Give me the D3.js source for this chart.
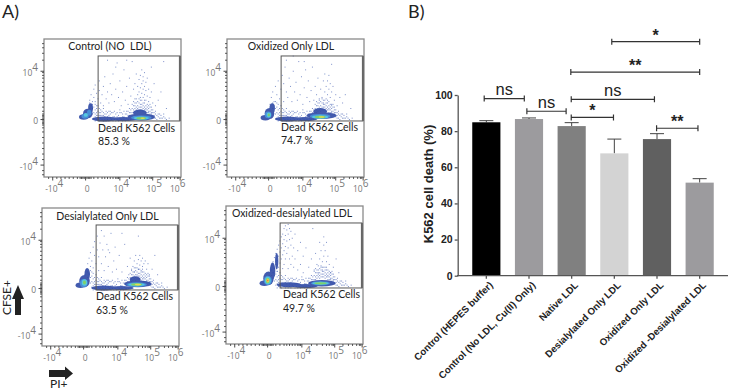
<!DOCTYPE html>
<meta charset="utf-8">
<style>
body { margin: 0; background: #fff; }
svg { display: block; }
text { font-family: Lato, "Open Sans", sans-serif; fill: #222; }
.flow-tick text { fill: #777; font-size: 8.5px; font-family: "Open Sans", sans-serif; }
.bars text { font-family: "Liberation Sans", Arial, sans-serif; font-weight: bold; fill: #222; }
.axis path, .axis line { stroke: #555; stroke-width: 1.3; }
</style>
<svg width="729" height="391"></svg>
<script src="https://d3js.org/d3.v7.min.js"></script>
<script>

// ---- panel B values
var groups = ["Control (HEPES buffer)", "Control (No LDL, Cu(II) Only)", "Native LDL",
  "Desialylated Only LDL", "Oxidized Only LDL", "Oxidized -Desialylated LDL"];
var deathPct = [84.9, 86.7, 82.8, 67.7, 75.6, 51.5];
var errorTop = [85.8, 87.3, 84.7, 75.6, 78.6, 53.7];
var barColors = ["#000000", "#9c9b9e", "#808080", "#d3d3d3", "#606060", "#9c9b9e"];
var pctTicks = [0, 20, 40, 60, 80, 100];

// brackets: from / to in bar index units, height in % units
var bracketFrom = [2.94, 1.98, -0.05, 0.95, 1.99, 1.99, 3.99];
var bracketTo = [5.0, 5.0, 0.89, 1.87, 3.94, 2.98, 4.96];
var bracketAt = [129.5, 112.7, 98, 91, 97.6, 87.6, 81.6];
var bracketText = ["*", "**", "ns", "ns", "ns", "*", "**"];

// ---- panel A values, in display channel units (0-100 across each plot)
var panelTitles = ["Control (NO  LDL)", "Oxidized Only LDL", "Desialylated Only LDL", "Oxidized-desialylated LDL"];
var panelPct = ["85.3 %", "74.7 %", "63.5 %", "49.7 %"];
var gateLabel = "Dead K562 Cells";
var gate = [39.5, 99.2, 40.6, 87.7];
var xMajor = [6, 30, 55, 79, 99];
var yMajor = [9, 42, 77];
var xMinor = [3, 9, 12, 15, 18, 21, 24, 26, 27, 28, 29, 31, 32, 33, 34, 36, 39, 42, 44, 46, 48, 50, 52, 53, 54, 62, 66, 70, 73, 75, 77, 78, 85, 89, 92, 95, 97, 98];
var yMinor = [2, 5, 13, 17, 21, 25, 29, 33, 36, 38, 39, 40, 41, 43, 44, 45, 46, 48, 51, 55, 59, 63, 66, 69, 72, 74, 76, 85, 90, 94, 97];
var xTickLabels = [["-10", "4"], ["0", ""], ["10", "4"], ["10", "5"], ["10", "6"]];
var yTickLabels = [["-10", "4"], ["0", ""], ["10", "4"]];

// dots common to all four plots: the low band and the foot of the right plume
var bandDots = [[36,43],[37,44],[37,41],[38,47],[38,42],[39,42],[39,45],[40,45],[40,41],[41,43],[41,47],[42,48],[42,42],[43,41],[43,45],
  [44,44],[44,42],[45,46],[45,41],[46,42],[46,44],[47,45],[47,41],[48,43],[48,46],[49,47],[49,42],[50,41],[50,44],[51,44],[51,42],[52,46],[52,41],
  [53,42],[53,44],[54,45],[54,41],[55,43],[55,47],[56,47],[56,42],[57,41],[57,44],[58,44],[58,42],[59,46],[59,41],[60,43],[60,48],[61,48],[61,42],
  [62,45],[62,50],[63,42],[63,47],[64,50],[64,44],[65,47],[65,52],[66,52],[66,48],[67,49],[67,54],[68,55],[68,50],[69,51],[69,57],[70,53],[70,49],
  [71,56],[71,51],[72,50],[72,54],[73,54],[73,49],[74,52],[74,47],[75,49],[75,53],[76,47],[76,50],[77,51],[77,46],[78,46],[78,49],[79,44],[79,47],
  [80,47],[80,43],[81,43],[81,46],[82,45],[82,42],[83,44],[84,43],[85,45],[86,43],[87,44],[89,42],[91,43]];
var footDots = [[33,50],[33,54],[34,48],[34,52],[35,46],[35,50],[35,55],[36,47],[36,51],[37,46],[37,49],[37,53],[38,45],[38,50],[39,48],[39,52],[40,47],[40,50],[41,45],[41,49],
  [42,45],[43,47],[43,50],[44,46],[45,48],[46,47],[47,48],[48,48],[50,47],[51,48],[53,47],[55,49],[57,46],[58,48],[60,46],[61,45],[62,47],[63,49],[64,47],[64,53],
  [65,49],[65,55],[66,50],[66,54],[67,51],[67,57],[68,52],[68,48],[69,49],[69,54],[70,51],[70,56],[71,49],[71,53],[72,52],[72,48],[73,51],[73,56],[74,50],[74,49],
  [75,51],[75,47],[76,48],[76,52],[77,48],[77,53],[78,47],[78,51],[79,49],[80,45],[81,48],[83,46],[84,46],[85,43],[87,46],[88,43]];

// hand-read sparse dots, one list per plot
var plotDots = [
  [[33,56],[34,60],[35,53],[36,58],[36,64],[37,55],[37,67],[38,61],[38,52],[39,57],[40,63],[40,70],[41,54],[42,60],[43,66],[43,52],[44,73],[45,57],[46,62],[47,54],[48,68],[49,60],[50,75],[51,55],[52,64],[53,83],[54,58],[55,70],[56,52],[57,62],[58,78],[59,56],[60,66],[61,53],[62,72],[63,59],[64,84],[65,64],[66,57],[66,68],[67,75],[68,60],[68,66],[69,71],[69,62],[70,58],[70,65],[70,74],[71,61],[71,68],[71,78],[72,58],[72,64],[72,70],[72,73],[73,60],[73,66],[73,76],[74,56],[74,63],[74,69],[75,59],[75,72],[76,55],[76,64],[77,58],[78,62],[79,54],[80,68],[81,52],[83,56],[85,62],[87,84],[89,50],[46,85],[52,80],[60,85],[78,80]],
  [[31,53],[32,58],[33,62],[34,55],[35,66],[36,60],[36,54],[37,70],[38,57],[39,64],[40,74],[41,68],[41,55],[42,80],[43,62],[43,85],[44,58],[45,72],[46,66],[47,55],[48,77],[49,62],[50,69],[51,56],[52,84],[53,60],[54,73],[55,53],[56,65],[57,78],[58,58],[59,70],[60,55],[61,63],[62,80],[63,56],[64,66],[65,60],[66,72],[67,56],[68,64],[69,58],[70,70],[70,54],[71,62],[71,75],[72,57],[72,66],[73,60],[73,70],[74,55],[74,64],[74,74],[75,58],[75,68],[76,53],[76,62],[77,66],[78,56],[79,60],[80,52],[82,58],[84,54],[86,60],[90,50],[56,84],[76,82],[48,88]],
  [[31,52],[32,56],[33,60],[34,53],[34,64],[35,58],[35,68],[36,54],[36,62],[37,72],[37,57],[38,66],[38,76],[39,60],[40,70],[40,80],[41,55],[41,65],[42,75],[43,84],[43,60],[44,70],[45,80],[45,55],[46,65],[47,74],[48,58],[49,68],[50,82],[51,54],[52,62],[53,72],[54,56],[56,66],[58,54],[60,74],[62,58],[63,52],[64,64],[65,56],[66,58],[67,54],[67,62],[68,66],[68,57],[69,60],[69,52],[70,63],[70,56],[71,59],[71,66],[72,55],[72,62],[73,58],[73,64],[74,60],[74,54],[75,62],[76,56],[77,60],[78,52],[80,56],[82,66],[84,52],[58,82],[70,80],[48,70]],
  [[31,50],[32,54],[33,57],[34,60],[34,52],[35,63],[35,55],[36,66],[36,58],[37,69],[37,61],[37,53],[38,72],[38,64],[38,56],[39,75],[39,67],[39,59],[40,78],[40,70],[40,62],[41,80],[41,73],[41,65],[41,55],[42,84],[42,76],[42,68],[42,58],[43,86],[43,79],[43,71],[43,62],[44,83],[44,75],[44,66],[45,87],[45,80],[45,70],[45,55],[46,84],[46,76],[46,62],[47,82],[47,72],[47,58],[48,77],[48,64],[49,70],[49,56],[50,80],[50,62],[52,68],[52,54],[54,74],[54,58],[56,64],[56,52],[58,70],[60,56],[62,62],[63,84],[64,54],[65,66],[66,58],[67,52],[68,62],[68,74],[69,56],[69,68],[70,60],[70,54],[71,72],[71,64],[71,78],[72,56],[72,68],[73,60],[73,74],[74,54],[74,64],[75,58],[76,52],[78,56],[80,62],[82,52]]
];

// density core of each plot: x, y, rx, ry, level (low level first)
var plotCores = [
  [[29,43.5,3.5,2,0],[32,46,3.5,3.5,0],[34,50,1.8,3.5,0],[44,42,9,1.8,0],[58,42,10,1.5,0],[71,43.5,10,2.5,0],[70,46.5,5,2.5,0],[30,44,2.6,1.8,1],[33,46.5,1.6,2.2,1],[71,43,7.5,1.6,1],[30.5,45,1.5,1.4,2],[71,42.7,5.5,1.2,2],[71,42.6,3.6,.9,3],[72,42.6,1.6,.6,4]],
  [[28,43,3.5,2,0],[31,46,3.5,4,0],[33,50,2,3.5,0],[44,42,9,1.8,0],[57,42,9,1.5,0],[69,44.5,11,2.5,0],[68,47.5,5,2.5,0],[30,45,2.4,2.4,1],[68,44,7.5,1.7,1],[30.5,45,1.7,1.8,2],[68,43.5,6,1.2,2],[30.5,45,.8,1,3],[68,43.5,4,.9,3],[69,43.5,2.2,.6,4]],
  [[28,44,3.5,2,0],[31,47,3.8,4.5,0],[33,52,2,4.5,0],[45,42,9,1.8,0],[58,42,9,1.5,0],[70,45,10,2.5,0],[68,48,4,2.5,0],[30.5,45.5,2.8,3,1],[69,44.5,7.5,1.7,1],[31,46,2,2.3,2],[69,44.5,6,1.2,2],[31,46,1.1,1.5,3],[69,44.5,4,.9,3],[70,44.5,2.4,.6,4]],
  [[28,44,3.5,2,0],[31,47.5,3.8,5,0],[34,53,2,6,0],[37,60,1.2,6,0],[46,43,9,1.8,0],[58,42,9,1.5,0],[70,44,10,2.3,0],[30.5,46,3,3.4,1],[69,44,7,1.5,1],[30.5,46,2.1,2.7,2],[69,44,6,1.1,2],[30.5,46,1.4,2,3],[69,44,4.5,.8,3],[30.5,46,.9,1.4,4],[30.5,46,.5,.8,5]]
];
var levelColors = ["#2f4aa6", "#3583d3", "#44c2dc", "#72cc5c", "#e6d83e", "#e8602a"];

// placement of each plot on the page
var plotLeft = [44, 227, 42, 226];
var plotTop = [39, 39, 208, 206];
var titleMid = [110, 291, 107.5, 292];
var titleBase = [50, 50, 220, 217];
var noteLeft = [98, 281, 96, 283];
var noteBase = [131.7, 130.7, 300, 298];

var svg = d3.select("svg");
var defs = svg.append("defs");
defs.append("filter").attr("id", "soft").append("feGaussianBlur").attr("stdDeviation", 0.6);
defs.append("filter").attr("id", "softDots").append("feGaussianBlur").attr("stdDeviation", 0.3);

svg.append("text").attr("x", 2).attr("y", 18).attr("font-size", 18).text("A)");
svg.append("text").attr("x", 408).attr("y", 18).attr("font-size", 18).text("B)");

function tickLabel(sel, parts) {
  sel.append("tspan").text(parts[0]);
  if (parts[1]) sel.append("tspan").attr("dy", -5).attr("font-size", 10).text(parts[1]);
}

panelTitles.forEach(function(title, i) {
  var x = d3.scaleLinear().domain([0, 100]).range([plotLeft[i], plotLeft[i] + 137]);
  var y = d3.scaleLinear().domain([0, 100]).range([plotTop[i] + 138, plotTop[i]]);
  var g = svg.append("g").attr("class", "flow");

  g.append("rect")
      .attr("x", x(0)).attr("y", y(100))
      .attr("width", x(100) - x(0)).attr("height", y(0) - y(100))
      .attr("fill", "none").attr("stroke", "#8a8a8a").attr("stroke-width", 1.3);

  // ticks
  [[d3.axisBottom(x), "translate(0," + y(0) + ")", xMajor, xMinor],
   [d3.axisLeft(y), "translate(" + x(0) + ",0)", yMajor, yMinor]].forEach(function(a) {
    g.append("g").attr("transform", a[1])
        .call(a[0].tickValues(a[3]).tickSize(2).tickFormat(""))
        .call(function(s) { s.select(".domain").remove(); s.selectAll("line").attr("stroke", "#333").attr("stroke-width", 0.8); });
    g.append("g").attr("transform", a[1])
        .call(a[0].tickValues(a[2]).tickSize(3.5).tickFormat(""))
        .call(function(s) { s.select(".domain").remove(); s.selectAll("line").attr("stroke", "#333").attr("stroke-width", 0.9); });
  });

  var labels = g.append("g").attr("class", "flow-tick");
  labels.selectAll(".xl").data(xMajor).enter().append("text")
      .attr("x", function(d) { return x(d) + (d === 99 ? -2 : 2); })
      .attr("y", y(0) + 15)
      .attr("text-anchor", "middle")
      .each(function(d, j) { tickLabel(d3.select(this), xTickLabels[j]); });
  labels.selectAll(".yl").data(yMajor).enter().append("text")
      .attr("x", x(0) - 6)
      .attr("y", function(d) { return y(d) + 5; })
      .attr("text-anchor", "end")
      .each(function(d, j) { tickLabel(d3.select(this), yTickLabels[j]); });

  // density: loose dots first, the coloured core over them
  g.append("g").attr("filter", "url(#softDots)")
    .selectAll("rect")
    .data(bandDots.concat(footDots, plotDots[i]))
    .enter().append("rect")
      .attr("x", function(d) { return x(d[0]); })
      .attr("y", function(d) { return y(d[1]); })
      .attr("width", 1).attr("height", 1)
      .attr("fill", "#2b4aa8").attr("opacity", 0.6);

  g.append("g").attr("filter", "url(#soft)").attr("opacity", 0.9)
    .selectAll("ellipse")
    .data(plotCores[i])
    .enter().append("ellipse")
      .attr("cx", function(d) { return x(d[0]); })
      .attr("cy", function(d) { return y(d[1]); })
      .attr("rx", function(d) { return x(d[2]) - x(0); })
      .attr("ry", function(d) { return y(0) - y(d[3]); })
      .attr("fill", function(d) { return levelColors[d[4]]; });

  // gate
  g.append("rect")
      .attr("x", x(gate[0])).attr("y", y(gate[3]))
      .attr("width", x(gate[1]) - x(gate[0])).attr("height", y(gate[2]) - y(gate[3]))
      .attr("fill", "none").attr("stroke", "#555").attr("stroke-width", 1);
  g.append("line")
      .attr("x1", x(gate[1])).attr("x2", x(gate[1]))
      .attr("y1", y(gate[3])).attr("y2", y(gate[2]))
      .attr("stroke", "#666").attr("stroke-width", 2);

  g.append("text").attr("x", titleMid[i]).attr("y", titleBase[i])
      .attr("text-anchor", "middle").attr("font-size", 10.5)
      .style("white-space", "pre").text(title);
  g.append("text").attr("x", noteLeft[i]).attr("y", noteBase[i]).attr("font-size", 10.5).text(gateLabel);
  g.append("text").attr("x", noteLeft[i]).attr("y", noteBase[i] + 13.5).attr("font-size", 10.5).text(panelPct[i]);
});

// axis captions of panel A, with their arrows
svg.append("path").attr("fill", "#222").attr("d", "M49,370H65V366.5L73,373.5L65,380V377H49Z");
svg.append("text").attr("x", 50).attr("y", 388).attr("font-size", 12).text("PI+");
svg.append("path").attr("fill", "#222").attr("d", "M15,315V299H12L18,285L24,299H21V315Z");
svg.append("text").attr("transform", "translate(11,315) rotate(-90)").attr("font-size", 12).text("CFSE+");

// ---- panel B
var yPct = d3.scaleLinear().domain([0, 100]).range([275.7, 95]);
var xBar = d3.scaleBand().domain(groups).range([465, 721]).paddingInner(0.34).paddingOuter(0.17);
var xIndex = d3.scaleLinear().domain([0, 5]).range([xBar(groups[0]) + xBar.bandwidth() / 2, xBar(groups[5]) + xBar.bandwidth() / 2]);

var chart = svg.append("g").attr("class", "bars");

chart.selectAll(".err").data(groups).enter().append("g").each(function(d, i) {
  var mid = xIndex(i);
  d3.select(this).append("path")
      .attr("d", "M" + mid + "," + yPct(deathPct[i]) + "V" + yPct(errorTop[i]) + "M" + (mid - 7) + "," + yPct(errorTop[i]) + "H" + (mid + 7))
      .attr("fill", "none").attr("stroke", "#444").attr("stroke-width", 1);
});

chart.selectAll(".bar").data(groups).enter().append("rect")
    .attr("x", function(d) { return xBar(d); })
    .attr("width", xBar.bandwidth())
    .attr("y", function(d, i) { return yPct(deathPct[i]); })
    .attr("height", function(d, i) { return yPct(0) - yPct(deathPct[i]); })
    .attr("fill", function(d, i) { return barColors[i]; });

chart.append("g").attr("class", "axis")
    .attr("transform", "translate(457.7,0)")
    .call(d3.axisLeft(yPct).tickValues(pctTicks).tickSize(3).tickSizeOuter(0))
    .selectAll("text").attr("font-size", 10.5).attr("dx", 1);

var xAxis = chart.append("g").attr("class", "axis")
    .attr("transform", "translate(0," + yPct(0) + ")")
    .call(d3.axisBottom(xBar).tickSize(3).tickSizeOuter(0));
xAxis.select(".domain").attr("d", "M457,0H728");
xAxis.selectAll("text")
    .attr("font-size", 9.7)
    .attr("text-anchor", "end")
    .attr("transform", "translate(-2,1) rotate(-45)");

chart.append("text")
    .attr("transform", "translate(433,184) rotate(-90)")
    .attr("text-anchor", "middle")
    .attr("font-size", 13)
    .text("K562 cell death (%)");

bracketText.forEach(function(label, i) {
  var a = xIndex(bracketFrom[i]), b = xIndex(bracketTo[i]), h = yPct(bracketAt[i]);
  chart.append("path")
      .attr("d", "M" + a + "," + (h - 3) + "V" + (h + 3) + "M" + a + "," + h + "H" + b + "M" + b + "," + (h - 3) + "V" + (h + 3))
      .attr("fill", "none").attr("stroke", "#333").attr("stroke-width", 1.2);
  chart.append("text")
      .attr("x", (a + b) / 2)
      .attr("y", label === "ns" ? h - 3.5 : h - 1)
      .attr("text-anchor", "middle")
      .attr("font-size", label === "ns" ? 16.5 : 16)
      .style("font-weight", label === "ns" ? "normal" : "bold")
      .text(label);
});

</script>
